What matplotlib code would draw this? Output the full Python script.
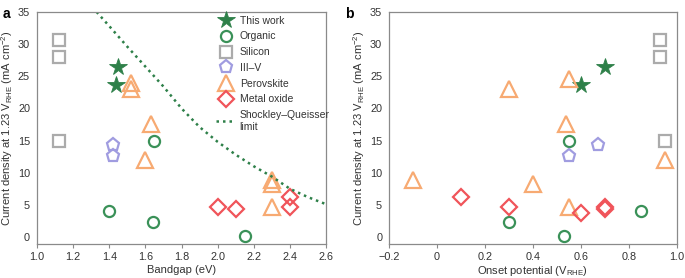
import numpy as np
import matplotlib.pyplot as plt

plt.rcParams['font.family'] = ['Liberation Sans', 'DejaVu Sans']
plt.rcParams['font.size'] = 7.5

# Panel a: bandgap (eV) vs current density at 1.23 V_RHE (mA cm^-2)
work_bg = [1.45, 1.44]
work_j = [26.5, 23.7]
org_bg = [1.40, 1.64, 1.65, 2.15]
org_j = [4.0, 2.3, 15.0, 0.1]
si_bg = [1.12, 1.12, 1.12]
si_j = [30.6, 28.0, 15.0]
iii_bg = [1.42, 1.42]
iii_j = [14.3, 12.6]
pero_bg = [1.52, 1.52, 1.63, 1.60, 2.30, 2.30, 2.30]
pero_j = [24.0, 23.0, 17.5, 12.0, 8.8, 8.2, 4.7]
mo_bg = [2.00, 2.10, 2.40, 2.40]
mo_j = [4.7, 4.3, 6.3, 4.7]

# Shockley-Queisser limit
sq_bg = [1.33, 1.40, 1.50, 1.60, 1.70, 1.80, 1.90, 2.00, 2.10, 2.20, 2.30, 2.40, 2.50, 2.60]
sq_j = [35.0, 32.8, 29.6, 26.5, 23.4, 20.0, 17.1, 14.8, 12.8, 11.0, 9.4, 7.5, 6.2, 5.1]

# Panel b: onset potential (V_RHE) vs current density
work_on = [0.60, 0.70]
work_jb = [23.7, 26.5]
org_on = [0.55, 0.30, 0.53, 0.85]
org_jb = [15.0, 2.3, 0.1, 4.0]
si_on = [0.93, 0.93, 0.95]
si_jb = [30.6, 28.0, 15.0]
iii_on = [0.55, 0.67]
iii_jb = [12.6, 14.3]
pero_on = [-0.10, 0.30, 0.40, 0.54, 0.55, 0.55, 0.95]
pero_jb = [8.8, 23.0, 8.2, 17.5, 24.5, 4.7, 12.0]
mo_on = [0.10, 0.30, 0.60, 0.70, 0.70]
mo_jb = [6.3, 4.7, 3.7, 4.6, 4.3]

green = '#2e8049'
c_org = '#3a9158'
c_si = '#ababab'
c_iii = '#a09ce0'
c_pero = '#f7aa72'
c_mo = '#f0545a'
txt = '#333333'
spine = '#8a8a8a'

styles = [
    ('This work', '*', green, True, 13),
    ('Organic', 'o', c_org, False, 8),
    ('Silicon', 's', c_si, False, 8),
    ('III–V', 'p', c_iii, False, 9.5),
    ('Perovskite', '^', c_pero, False, 11),
    ('Metal oxide', 'D', c_mo, False, 8),
]

fig = plt.figure(figsize=(6.85, 2.78), dpi=100)
ax_a = fig.add_axes([0.054, 0.122, 0.422, 0.835])
ax_b = fig.add_axes([0.568, 0.122, 0.420, 0.835])

data_a = [(work_bg, work_j), (org_bg, org_j), (si_bg, si_j),
          (iii_bg, iii_j), (pero_bg, pero_j), (mo_bg, mo_j)]
data_b = [(work_on, work_jb), (org_on, org_jb), (si_on, si_jb),
          (iii_on, iii_jb), (pero_on, pero_jb), (mo_on, mo_jb)]

for ax, data in [(ax_a, data_a), (ax_b, data_b)]:
    for (label, m, c, filled, ms), (xs, ys) in zip(styles, data):
        ax.plot(xs, ys, linestyle='none', marker=m, markersize=ms,
                markerfacecolor=c if filled else 'none', markeredgecolor=c,
                markeredgewidth=0.6 if filled else 1.6, label=label)

ax_a.plot(sq_bg, sq_j, color=green, linestyle=(0, (1, 1.6)), lw=1.8,
          label='Shockley–Queisser\nlimit')

ax_a.set_xlim(1.0, 2.6)
ax_a.set_xticks(np.arange(1.0, 2.61, 0.2))
ax_a.set_xticklabels(['%.1f' % v for v in np.arange(1.0, 2.61, 0.2)])
ax_b.set_xlim(-0.2, 1.0)
ax_b.set_xticks(np.arange(-0.2, 1.01, 0.2))
ax_b.set_xticklabels(['−0.2', '0', '0.2', '0.4', '0.6', '0.8', '1.0'])

ylab = 'Current density at 1.23 V$_{\\mathregular{RHE}}$ (mA cm$^{\\mathregular{-2}}$)'
for ax in (ax_a, ax_b):
    ax.set_ylim(-1.1, 35)
    ax.set_yticks(range(0, 36, 5))
    ax.tick_params(axis='y', length=0, pad=5, colors=txt, labelsize=7.8)
    ax.tick_params(axis='x', length=3, width=0.8, colors=txt,
                   labelsize=7.8, pad=3)
    ax.tick_params(axis='x', color=spine)
    for s in ax.spines.values():
        s.set_color(spine)
        s.set_linewidth(0.9)
    ax.set_ylabel(ylab, color=txt, fontsize=8, labelpad=2)

ax_a.set_xlabel('Bandgap (eV)', color=txt, fontsize=8, labelpad=2)
ax_b.set_xlabel('Onset potential (V$_{\\mathregular{RHE}}$)', color=txt, fontsize=8, labelpad=1)

leg = ax_a.legend(loc='upper left', bbox_to_anchor=(0.593, 1.015), frameon=False,
                  fontsize=7.5, labelspacing=0.55, handlelength=1.9,
                  handletextpad=0.4, borderaxespad=0.3)
for t in leg.get_texts():
    t.set_color(txt)

fig.text(0.004, 0.975, 'a', fontsize=10, fontweight='bold', va='top')
fig.text(0.503, 0.975, 'b', fontsize=10, fontweight='bold', va='top')

fig.savefig('out.png', dpi=100)
